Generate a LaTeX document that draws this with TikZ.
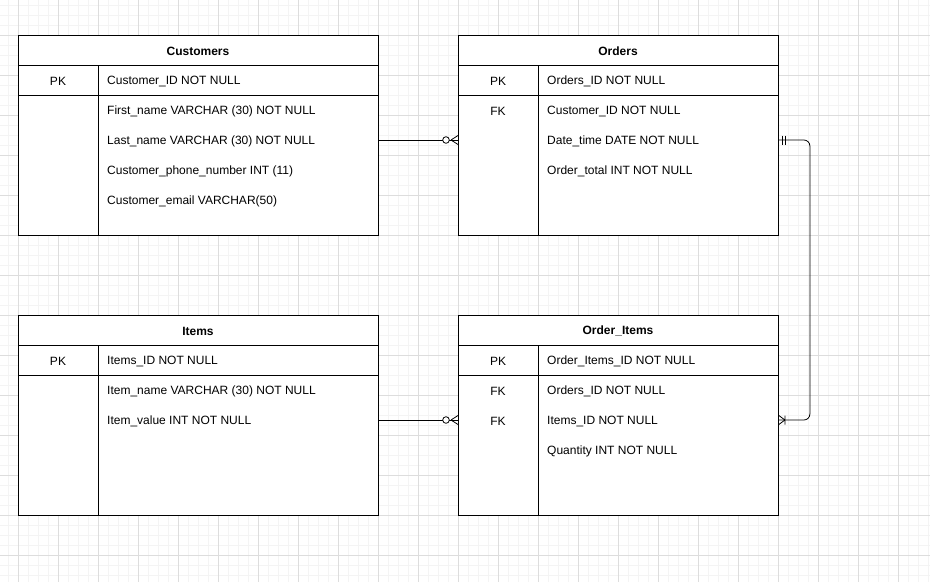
\documentclass[tikz,border=0pt]{standalone}
\usepackage{fontspec}
\setmainfont{Liberation Sans}
\usetikzlibrary{positioning,calc}

\definecolor{gridminor}{HTML}{F4F4F4}
\definecolor{gridmajor}{HTML}{DDDDDD}

\begin{document}
\begin{tikzpicture}[
    x=1pt, y=-1pt,
    font=\fontsize{12}{14}\selectfont,
    tbl/.style={draw, line width=0.9pt, anchor=north west, minimum height=200pt, inner sep=0pt},
    title/.style={font=\fontsize{12}{14}\selectfont\bfseries, yshift=-1pt},
    key/.style={inner sep=0pt, yshift=-1pt},
    field/.style={anchor=west, inner sep=0pt, yshift=-1pt},
    rel/.style={draw, line width=0.8pt},
    pics/zeromany/.style={code={
        \draw[line width=0.8pt, fill=white] (-12,0) circle (3.3);
        \draw[line width=0.8pt] (-7,0) -- (0,-4.5) (-7,0) -- (0,4.5);
    }},
    pics/mandone/.style={code={
        \draw[line width=0.8pt] (3,-4.5) -- (3,4.5) (6,-4.5) -- (6,4.5);
    }},
    pics/onemany/.style={code={
        \draw[line width=0.8pt] (6,-4.5) -- (6,4.5) (6,0) -- (0,-4.5) (6,0) -- (0,4.5);
    }}
]

\useasboundingbox (0,0) rectangle (930,582);
\fill[white] (0,0) rectangle (930,582);

% Background grid
\foreach \x in {8,18,...,928} \draw[gridminor, line width=0.6pt] (\x,0) -- (\x,582);
\foreach \y in {5,15,...,575} \draw[gridminor, line width=0.6pt] (0,\y) -- (930,\y);
\foreach \x in {18,58,...,898} \draw[gridmajor, line width=0.6pt] (\x,0) -- (\x,582);
\foreach \y in {35,75,...,555} \draw[gridmajor, line width=0.6pt] (0,\y) -- (930,\y);

% Tables
\node[tbl, fill=white, minimum width=360pt] (cust) at (18,35) {};
\node[tbl, fill=white, minimum width=320pt] (ord) at (458,35) {};
\node[tbl, fill=white, minimum width=360pt] (item) at (18,315) {};
\node[tbl, fill=white, minimum width=320pt] (ordit) at (458,315) {};

% Header, key row and key column lines
\foreach \t in {cust,ord,item,ordit} {
  \draw[line width=0.9pt] ($(\t.north west)+(0,30)$) -- ($(\t.north east)+(0,30)$);
  \draw[line width=0.9pt] ($(\t.north west)+(0,60)$) -- ($(\t.north east)+(0,60)$);
  \draw[line width=0.9pt] ($(\t.north west)+(80,30)$) -- ($(\t.south west)+(80,0)$);
}

% Customers
\node[title] (custtitle) at (198,50) {Customers};
\node[key] (custpkkey) at (58,80) {PK};
\node[field] (custpk) at (107,80) {Customer\_ID NOT NULL};
\node[field] (custfirst) at (107,110) {First\_name VARCHAR (30) NOT NULL};
\node[field] (custlast) at (107,140) {Last\_name VARCHAR (30) NOT NULL};
\node[field] (custphone) at (107,170) {Customer\_phone\_number INT (11)};
\node[field] (custemail) at (107,200) {Customer\_email VARCHAR(50)};

% Orders
\node[title] (ordtitle) at (618,50) {Orders};
\node[key] (ordpkkey) at (498,80) {PK};
\node[field] (ordpk) at (547,80) {Orders\_ID NOT NULL};
\node[key] (ordfkkey) at (498,110) {FK};
\node[field] (ordcust) at (547,110) {Customer\_ID NOT NULL};
\node[field] (orddate) at (547,140) {Date\_time DATE NOT NULL};
\node[field] (ordtotal) at (547,170) {Order\_total INT NOT NULL};

% Items
\node[title] (itemtitle) at (198,330) {Items};
\node[key] (itempkkey) at (58,360) {PK};
\node[field] (itempk) at (107,360) {Items\_ID NOT NULL};
\node[field] (itemname) at (107,390) {Item\_name VARCHAR (30) NOT NULL};
\node[field] (itemvalue) at (107,420) {Item\_value INT NOT NULL};

% Order_Items
\node[title] (oititle) at (618,330) {Order\_Items};
\node[key] (oipkkey) at (498,360) {PK};
\node[field] (oipk) at (547,360) {Order\_Items\_ID NOT NULL};
\node[key] (oifk1key) at (498,390) {FK};
\node[field] (oiord) at (547,390) {Orders\_ID NOT NULL};
\node[key] (oifk2key) at (498,420) {FK};
\node[field] (oiitem) at (547,420) {Items\_ID NOT NULL};
\node[field] (oiqty) at (547,450) {Quantity INT NOT NULL};

% Relationships (row centres, text sits 1pt lower)
\coordinate (custlink) at ($(cust.east |- custlast.west)+(0,-1)$);
\coordinate (ordlink) at ($(ord.west |- custlast.west)+(0,-1)$);
\coordinate (itemlink) at ($(item.east |- itemvalue.west)+(0,-1)$);
\coordinate (oilink) at ($(ordit.west |- itemvalue.west)+(0,-1)$);
\coordinate (ordout) at ($(ord.east |- orddate.west)+(0,-1)$);
\coordinate (oiin) at ($(ordit.east |- oiitem.west)+(0,-1)$);

\draw[rel] (custlink) -- (ordlink);
\pic at (ordlink) {zeromany};

\draw[rel] (itemlink) -- (oilink);
\pic at (oilink) {zeromany};

\draw[rel, rounded corners=6pt] (ordout) -- ++(31,0) |- (oiin);
\pic at (ordout) {mandone};
\pic at (oiin) {onemany};

\end{tikzpicture}
\end{document}
